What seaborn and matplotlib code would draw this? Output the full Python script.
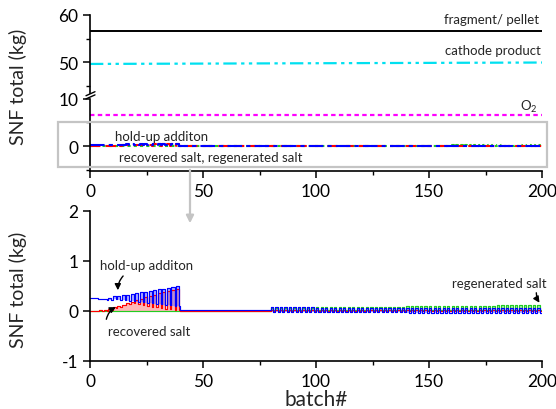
import matplotlib
matplotlib.use("Agg")
import matplotlib.pyplot as plt
import numpy as np
import pandas as pd
import seaborn as sns
from matplotlib.patches import Rectangle, FancyArrowPatch
from matplotlib.lines import Line2D
from matplotlib.ticker import MultipleLocator

# ---------------- data ----------------
# constant streams (kg per batch), drawn in the upper panel
line_batches = [0, 200]
fragment_pellet = [56.6, 56.6]
cathode_product = [49.6, 49.9]
o2_stream = [6.6, 6.6]

# alternating two-batch cycles, batches 0-40: (high, low) value of each cycle
holdup_hi_early = [0.27, 0.27, 0.25, 0.25, 0.26, 0.30, 0.31, 0.32, 0.33, 0.35,
                   0.36, 0.38, 0.39, 0.41, 0.42, 0.44, 0.45, 0.47, 0.48, 0.50]
holdup_lo_early = [0.27, 0.25, 0.24, 0.23, 0.23, 0.24, 0.23, 0.22, 0.21, 0.20,
                   0.19, 0.18, 0.17, 0.16, 0.15, 0.14, 0.13, 0.12, 0.11, 0.10]
recovered_hi_early = [0.00, 0.00, 0.03, 0.03, 0.05, 0.08, 0.11, 0.13, 0.16, 0.19,
                      0.22, 0.25, 0.28, 0.30, 0.33, 0.36, 0.38, 0.41, 0.43, 0.45]
recovered_lo_early = [0.00, 0.00, 0.00, 0.00, 0.03, 0.06, 0.09, 0.12, 0.15, 0.16,
                      0.14, 0.12, 0.11, 0.09, 0.08, 0.07, 0.05, 0.04, 0.03, 0.02]
regenerated_hi_early = [0.0] * 20
regenerated_lo_early = [0.0] * 20

# quiet stretch, batches 40-80
holdup_mid = 0.02
recovered_mid = 0.0
regenerated_mid = 0.0

# alternating two-batch cycles, batches 80-200
holdup_hi_late = [0.08, 0.08, 0.08, 0.08, 0.08, 0.08, 0.08, 0.08, 0.08, 0.08,
                  0.07, 0.07, 0.07, 0.07, 0.07, 0.07, 0.07, 0.07, 0.07, 0.07,
                  0.07, 0.07, 0.07, 0.07, 0.07, 0.07, 0.07, 0.07, 0.07, 0.07,
                  0.07, 0.07, 0.07, 0.07, 0.07, 0.07, 0.07, 0.07, 0.07, 0.07,
                  0.06, 0.06, 0.06, 0.06, 0.06, 0.06, 0.06, 0.06, 0.06, 0.06,
                  0.06, 0.06, 0.06, 0.06, 0.06, 0.06, 0.06, 0.06, 0.06, 0.06]
holdup_lo_late = [-0.01, -0.01, -0.01, -0.01, -0.01, -0.01, -0.01, -0.01, -0.01, -0.01,
                  -0.02, -0.02, -0.02, -0.02, -0.02, -0.02, -0.02, -0.02, -0.02, -0.02,
                  -0.02, -0.02, -0.02, -0.02, -0.02, -0.02, -0.02, -0.02, -0.02, -0.02,
                  -0.03, -0.03, -0.03, -0.03, -0.03, -0.03, -0.03, -0.03, -0.03, -0.03,
                  -0.03, -0.03, -0.03, -0.03, -0.03, -0.03, -0.03, -0.03, -0.03, -0.03,
                  -0.04, -0.04, -0.04, -0.04, -0.04, -0.04, -0.04, -0.04, -0.04, -0.04]
recovered_hi_late = [0.02] * 60
recovered_lo_late = [0.00] * 60
regenerated_hi_late = [0.06, 0.06, 0.06, 0.06, 0.06, 0.07, 0.07, 0.07, 0.07, 0.07,
                       0.08, 0.08, 0.08, 0.08, 0.08, 0.08, 0.08, 0.08, 0.08, 0.08,
                       0.09, 0.09, 0.09, 0.09, 0.09, 0.09, 0.09, 0.09, 0.09, 0.09,
                       0.10, 0.10, 0.10, 0.10, 0.10, 0.10, 0.10, 0.10, 0.10, 0.10,
                       0.11, 0.11, 0.11, 0.11, 0.11, 0.11, 0.11, 0.11, 0.11, 0.11,
                       0.12, 0.12, 0.12, 0.12, 0.12, 0.12, 0.12, 0.12, 0.12, 0.12]
regenerated_lo_late = [0.03] * 60

series_names = ["hold-up additon", "recovered salt", "regenerated salt"]
series_colors = {"hold-up additon": "#0000ff",
                 "recovered salt": "#ff0000",
                 "regenerated salt": "#22cc22"}
fill_colors = {"hold-up additon": "#6a6aff",
               "recovered salt": "#ff7070",
               "regenerated salt": "#55ee55"}


def cycles_to_steps(start, hi, lo, high_len, period=2.0):
    """Turn (high, low) pairs of consecutive cycles into step-post points,
    plus the low level of each cycle as a base for the pulse fill."""
    xs, ys, base = [], [], []
    for k, (h, l) in enumerate(zip(hi, lo)):
        s = start + k * period
        xs += [s, s + high_len]
        ys += [h, l]
        base += [l, l]
    return xs, ys, base


def build_series(hi_e, lo_e, mid, hi_l, lo_l):
    x1, y1, b1 = cycles_to_steps(0, hi_e, lo_e, high_len=1.4)
    x3, y3, b3 = cycles_to_steps(80, hi_l, lo_l, high_len=1.0)
    xs = x1 + [40] + x3 + [200]
    ys = y1 + [mid] + y3 + [y3[-1]]
    base = b1 + [mid] + b3 + [b3[-1]]
    return xs, ys, base


frames = []
for name, parts in zip(series_names, [
        (holdup_hi_early, holdup_lo_early, holdup_mid, holdup_hi_late, holdup_lo_late),
        (recovered_hi_early, recovered_lo_early, recovered_mid, recovered_hi_late, recovered_lo_late),
        (regenerated_hi_early, regenerated_lo_early, regenerated_mid, regenerated_hi_late, regenerated_lo_late)]):
    xs, ys, base = build_series(*parts)
    frames.append(pd.DataFrame({"batch": xs, "snf": ys, "base": base, "series": name}))
salts = pd.concat(frames, ignore_index=True)

# ---------------- styling ----------------
sns.set_theme(style="ticks")
plt.rcParams["font.family"] = ["Lato", "DejaVu Sans"]
plt.rcParams["mathtext.fontset"] = "custom"
plt.rcParams["mathtext.rm"] = "Lato"
plt.rcParams["axes.linewidth"] = 1.2
plt.rcParams["axes.edgecolor"] = "black"
for ax_name in ("xtick", "ytick"):
    plt.rcParams[f"{ax_name}.major.size"] = 5
    plt.rcParams[f"{ax_name}.minor.size"] = 3
    plt.rcParams[f"{ax_name}.major.width"] = 1.1
    plt.rcParams[f"{ax_name}.minor.width"] = 1.0
    plt.rcParams[f"{ax_name}.color"] = "black"
    plt.rcParams[f"{ax_name}.labelsize"] = 12.5
    plt.rcParams[f"{ax_name}.direction"] = "out"

W, H = 556, 410
fig = plt.figure(figsize=(W / 100, H / 100), dpi=100)


def fig_box(x0, y0, x1, y1):
    return [x0 / W, 1 - y1 / H, (x1 - x0) / W, (y1 - y0) / H]


ax_hi = fig.add_axes(fig_box(90, 16, 542, 96))
ax_lo = fig.add_axes(fig_box(90, 96, 542, 172))
ax_b = fig.add_axes(fig_box(90, 212, 542, 362))

# ---- upper panel, top segment ----
sns.lineplot(x=line_batches, y=fragment_pellet, ax=ax_hi, color="black", lw=1.4)
sns.lineplot(x=line_batches, y=cathode_product, ax=ax_hi, color="#00e0f0", lw=1.6,
             linestyle=(0, (6, 2, 1.5, 2, 1.5, 2)))
ax_hi.set_ylim(43.0, 60)
ax_hi.set_xlim(0, 200)
ax_hi.set_yticks([50, 60])
ax_hi.yaxis.set_minor_locator(MultipleLocator(5))
ax_hi.set_xticks([])
for s in ("top", "right", "bottom"):
    ax_hi.spines[s].set_visible(False)
ax_hi.text(198.7, 59.1, "fragment/ pellet", ha="right", va="center", fontsize=9.5)
ax_hi.text(199.5, 52.6, "cathode product", ha="right", va="center", fontsize=9.5)

# ---- upper panel, bottom segment ----
sns.lineplot(x=line_batches, y=o2_stream, ax=ax_lo, color="#ff00ff", lw=1.6,
             linestyle=(0, (2, 1.5)))
top_styles = {"regenerated salt": (0, (1.5, 1.5)),
              "recovered salt": (0, (5, 2.5)),
              "hold-up additon": (0, (7, 2, 2, 2))}
for name in ["regenerated salt", "recovered salt", "hold-up additon"]:
    d = salts[salts["series"] == name]
    sns.lineplot(data=d, x="batch", y="snf", ax=ax_lo, color=series_colors[name],
                 lw=1.5, linestyle=top_styles[name], drawstyle="steps-post",
                 estimator=None, sort=False)
ax_lo.set_ylim(-5.31, 10.84)
ax_lo.set_xlim(0, 200)
ax_lo.set_yticks([0, 10])
ax_lo.yaxis.set_minor_locator(MultipleLocator(5))
ax_lo.set_xticks([0, 50, 100, 150, 200])
ax_lo.xaxis.set_minor_locator(MultipleLocator(25))
for s in ("top", "right"):
    ax_lo.spines[s].set_visible(False)
ax_lo.set_xlabel("")
ax_lo.set_ylabel("")
ax_hi.set_xlabel("")
ax_hi.set_ylabel("")
ax_lo.text(198, 8.5, "O$_2$", ha="right", va="center", fontsize=9.5)
ax_lo.text(11, 2.13, "hold-up additon", ha="left", va="center", fontsize=9.5)
ax_lo.text(12.8, -2.34, "recovered salt, regenerated salt", ha="left", va="center",
           fontsize=9.5)

# ---- lower panel (zoom of the near-zero streams) ----
rec = salts[salts["series"] == "recovered salt"]
ax_b.fill_between(rec["batch"], 0, rec["snf"], step="post",
                  color=fill_colors["recovered salt"], alpha=0.5, lw=0)
for name in ["regenerated salt", "hold-up additon"]:
    d = salts[salts["series"] == name]
    ax_b.fill_between(d["batch"], d["base"], d["snf"], step="post",
                      color=fill_colors[name], alpha=0.5, lw=0)
for name in ["regenerated salt", "recovered salt", "hold-up additon"]:
    d = salts[salts["series"] == name]
    sns.lineplot(data=d, x="batch", y="snf", ax=ax_b, color=series_colors[name],
                 lw=0.85, drawstyle="steps-post", estimator=None, sort=False)
ax_b.set_xlim(0, 200)
ax_b.set_ylim(-1, 2)
ax_b.set_yticks([-1, 0, 1, 2])
ax_b.set_yticklabels(["-1", "0", "1", "2"])
ax_b.set_xticks([0, 50, 100, 150, 200])
ax_b.xaxis.set_minor_locator(MultipleLocator(25))
for s in ("top", "right"):
    ax_b.spines[s].set_visible(False)
ax_b.set_ylabel("")
ax_b.set_xlabel("batch#", fontsize=15, labelpad=0)

ax_b.text(25, 0.92, "hold-up additon", ha="center", va="center", fontsize=9.5)
ax_b.text(26, -0.4, "recovered salt", ha="center", va="center", fontsize=9.5)
ax_b.text(181, 0.56, "regenerated salt", ha="center", va="center", fontsize=9.5)
arrow_kw = dict(arrowstyle="-|>", color="black", lw=1.0, mutation_scale=9)
ax_b.annotate("", xy=(12.4, 0.36), xytext=(15.5, 0.74),
              arrowprops=dict(connectionstyle="arc3,rad=0.25", **arrow_kw))
ax_b.annotate("", xy=(12.6, 0.1), xytext=(7, -0.22),
              arrowprops=dict(connectionstyle="arc3,rad=-0.3", **arrow_kw))
ax_b.annotate("", xy=(199.6, 0.12), xytext=(197.5, 0.42),
              arrowprops=dict(connectionstyle="arc3,rad=0.2", **arrow_kw))

# ---- figure-level decorations ----
fig.text(18 / W, 1 - 87 / H, "SNF total (kg)", rotation=90, ha="center", va="center",
         fontsize=14)
fig.text(18 / W, 1 - 290 / H, "SNF total (kg)", rotation=90, ha="center", va="center",
         fontsize=14)

# axis break on the upper panel's left spine
fig.patches.append(Rectangle((88.5 / W, 1 - 98 / H), 3 / W, 3.5 / H,
                             transform=fig.transFigure, color="white", zorder=5))
for dy in (0, 3.2):
    fig.lines.append(Line2D([86 / W, 95 / W], [1 - (98.5 + dy - 1.8) / H, 1 - (94.5 + dy - 1.8) / H],
                            transform=fig.transFigure, color="black", lw=1.0, zorder=6))

# highlight box around the near-zero streams and pointer to the lower panel
fig.patches.append(Rectangle((58 / W, 1 - 168 / H), (547 - 58) / W, 45 / H,
                             transform=fig.transFigure, fill=False,
                             edgecolor="#c4c4c4", lw=1.6, zorder=4))
fig.patches.append(FancyArrowPatch((190 / W, 1 - 168 / H), (190 / W, 1 - 227 / H),
                                   transform=fig.transFigure, arrowstyle="-|>",
                                   mutation_scale=11, color="#c4c4c4", lw=1.6,
                                   zorder=4))

fig.savefig("out.png", dpi=100)
